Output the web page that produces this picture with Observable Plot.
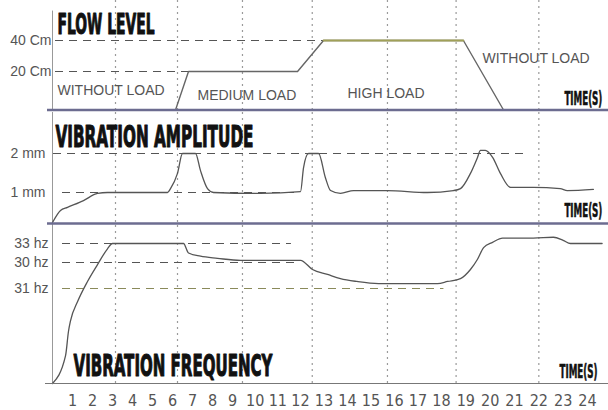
<!DOCTYPE html>
<html><head><meta charset="utf-8">
<script src="https://cdn.jsdelivr.net/npm/d3@7"></script>
<script src="https://cdn.jsdelivr.net/npm/@observablehq/plot@0.6"></script>
<style>
html,body{margin:0;padding:0;background:#fff;overflow:hidden;width:608px;height:410px}
#chart svg{display:block}
</style></head><body><div id="chart"></div>
<script>
// ---- data ----
const timeTicks = [1,2,3,4,5,6,7,8,9,10,11,12,13,14,15,16,17,18,19,20,21,22,23,24];
const gridT = [3.15, 6.25, 9.44, 12.5, 15.7, 18.6, 22.0];

const flowT  = [0, 6.15, 6.8, 11.87, 12.98, 18.9, 20.55, 24.9];
const flowCm = [0, 0, 20, 20, 40, 40, 0, 0];
const flowTicks = [20, 40];
const flowTickLabels = ["20 Cm", "40 Cm"];
const flowGuideCm = [40, 20];
const flowGuideStart = [0.15, 0.15];
const flowGuideEnd = [12.98, 6.8];
const loadLabels = ["WITHOUT LOAD", "MEDIUM LOAD", "HIGH LOAD", "WITHOUT LOAD"];
const loadT = [0.25, 7.25, 14.0, 19.69];
const loadCm = [10.1, 7.5, 8.6, 28.4];

const ampT  = [0, 0.4, 0.75, 1.55, 2.25, 2.75, 4.4, 5.75, 5.9, 6.25, 6.5, 7.15, 7.4, 7.75, 8.05, 10.24, 12, 12.13, 12.34, 12.77, 13.06, 13.28, 13.7, 14.26, 15.7, 17.4, 18.49, 18.78, 19.19, 19.48, 19.6, 19.8, 20.1, 20.42, 20.84, 21.77, 22.88, 23.17, 24.24];
const ampMm = [0.03, 0.42, 0.52, 0.74, 0.97, 1.0, 1.0, 1.0, 1.1, 1.49, 2.0, 2.0, 1.56, 1.1, 1.0, 0.97, 1.02, 1.64, 2.0, 2.0, 1.38, 1.05, 0.97, 1.05, 1.05, 1.0, 1.05, 1.1, 1.49, 1.9, 2.08, 2.08, 1.9, 1.49, 1.13, 1.13, 1.1, 1.05, 1.08];
const ampTicks = [1, 2];
const ampTickLabels = ["1 mm", "2 mm"];
const ampGuideMm = [2, 1];
const ampGuideStart = [0.05, 0.5];
const ampGuideEnd = [21.4, 12];

const freqT = [0, 0.65, 0.8, 0.9, 1.25, 1.75, 2.25, 2.75, 3.0, 6.55, 6.8, 7.4, 8.25, 9.35, 12, 12.51, 13.15, 13.7, 14.4, 15.32, 16.72, 17.83, 18.25, 18.78, 19.19, 19.48, 19.73, 20.1, 20.51, 21.77, 22.6, 23.0, 23.3, 24.6];
const freqLevel = [0, 0.29, 0.55, 0.66, 0.86, 1.27, 1.92, 2.72, 3.0, 3.0, 2.5, 2.33, 2.22, 2.11, 2.11, 1.73, 1.54, 1.38, 1.27, 1.19, 1.19, 1.19, 1.27, 1.38, 1.73, 2.17, 2.78, 3.06, 3.28, 3.28, 3.33, 3.17, 3.0, 3.0];
const freqTicks = [1, 2, 3];
const freqTickLabels = ["31 hz", "30 hz", "33 hz"];
const freqGuideLevel = [3, 2, 1];
const freqGuideStart = [0.5, 0.5, 0.5];
const freqGuideEnd = [11.6, 12, 18.1];

const titles = ["FLOW LEVEL", "VIBRATION AMPLITUDE", "VIBRATION FREQUENCY"];
const timeLabel = "TIME(S)";

// ---- helpers ----
const zip = (a, b) => a.map((v, i) => [v, b[i]]);
const guides = (vals, s, e) => vals.map((v, i) => ({v, x1: s[i], x2: e[i]}));
const titleFont = "'DejaVu Sans Condensed', 'DejaVu Sans', sans-serif";
const fitWidths = {"FLOW LEVEL": 97, "VIBRATION AMPLITUDE": 198, "VIBRATION FREQUENCY": 199};

function panel({height, marginBottom = 0, yDomain, yRange, yTicks, yLabels, tickPadding, xAxis = false, marks}) {
  return Plot.plot({
    width: 608, height, marginLeft: 52, marginRight: 0, marginTop: 0, marginBottom,
    style: {fontFamily: "'Liberation Sans', Arial, sans-serif", fontSize: "14px", color: "#555", background: "transparent", overflow: "hidden"},
    x: {type: "linear", domain: [0, 9, 12, 18, 24], range: [52, 232, 300, 441, 587], axis: xAxis ? "bottom" : null,
        ticks: timeTicks, tickSize: 0, tickPadding: 11, label: null},
    y: {type: "linear", domain: yDomain, range: yRange, ticks: yTicks, tickFormat: d => yLabels[yTicks.indexOf(d)],
        tickSize: 0, tickPadding, label: null},
    marks
  });
}

const gridMark = () => Plot.ruleX(gridT, {x: d => d, stroke: "#9a9a9a", strokeWidth: 1.2, strokeDasharray: "2,4"});
const titleMark = (txt, t, y, size) => Plot.text([txt], {x: () => t, y: () => y, text: d => d, textAnchor: "start",
  fontFamily: titleFont, fontWeight: "bold", fontSize: size, fill: "#111", stroke: "#111", strokeWidth: 1.1});
const timeMark = (t, y) => Plot.text([timeLabel], {x: () => t, y: () => y, text: d => d, textAnchor: "start",
  fontFamily: titleFont, fontWeight: "bold", fontSize: 19, fill: "#111", stroke: "#111", strokeWidth: 0.6});

// ---- panel 1: flow level ----
const flow = zip(flowT, flowCm);
const p1 = panel({
  height: 112, yDomain: [0, 20, 40], yRange: [109.5, 71, 40], yTicks: flowTicks, yLabels: flowTickLabels, tickPadding: 1,
  marks: [
    gridMark(),
    Plot.ruleX([0], {y1: 0, y2: 59, stroke: "#999"}),
    Plot.ruleY(guides(flowGuideCm, flowGuideStart, flowGuideEnd), {y: "v", x1: "x1", x2: "x2", stroke: "#555", strokeDasharray: "8,6"}),
    Plot.line(flow, {x: d => d[0], y: d => d[1], stroke: "#666", strokeWidth: 1.4}),
    Plot.line(flow.filter(d => d[1] === 40), {x: d => d[0], y: d => d[1], stroke: "#a0a058", strokeWidth: 1.8}),
    Plot.ruleY([0], {x1: -0.25, x2: 25, stroke: "#6c6c90", strokeWidth: 2.5}),
    Plot.text(loadLabels, {x: (d, i) => loadT[i], y: (d, i) => loadCm[i], text: d => d, textAnchor: "start", fill: "#555", fontSize: 14}),
    titleMark(titles[0], 0.25, 50.5, 29),
    timeMark(23.05, 5.5)
  ]
});

// ---- panel 2: vibration amplitude ----
const p2 = panel({
  height: 113, yDomain: [0, 1, 2], yRange: [111, 80, 41], yTicks: ampTicks, yLabels: ampTickLabels, tickPadding: 7,
  marks: [
    gridMark(),
    Plot.ruleX([0], {stroke: "#999"}),
    Plot.ruleY(guides(ampGuideMm, ampGuideStart, ampGuideEnd), {y: "v", x1: "x1", x2: "x2", stroke: "#555", strokeDasharray: "8,6"}),
    Plot.line(zip(ampT, ampMm), {x: d => d[0], y: d => d[1], stroke: "#555", strokeWidth: 1.3, curve: "monotone-x"}),
    Plot.ruleY([0], {x1: -0.25, x2: 25, stroke: "#6c6c90", strokeWidth: 2.5}),
    titleMark(titles[1], 0.15, 2.43, 31),
    timeMark(23.05, 0.39)
  ]
});

// ---- panel 3: vibration frequency ----
const p3 = panel({
  height: 185, marginBottom: 27, yDomain: [0, 1, 2, 3], yRange: [158, 63, 37, 18], yTicks: freqTicks, yLabels: freqTickLabels, tickPadding: 4, xAxis: true,
  marks: [
    gridMark(),
    Plot.ruleX([0], {stroke: "#999"}),
    Plot.ruleY(guides(freqGuideLevel, freqGuideStart, freqGuideEnd), {y: "v", x1: "x1", x2: "x2",
      stroke: (d, i) => i === 2 ? "#8a8a5a" : "#555", strokeDasharray: "8,6"}),
    Plot.line(zip(freqT, freqLevel), {x: d => d[0], y: d => d[1], stroke: "#555", strokeWidth: 1.3, curve: "monotone-x"}),
    Plot.ruleY([0], {x1: -0.35, x2: 25, stroke: "#777", strokeWidth: 1.2}),
    titleMark(titles[2], 1.05, 0.18, 31),
    timeMark(22.85, 0.126)
  ]
});

const root = document.getElementById("chart");
[p1, p2, p3].forEach(p => root.appendChild(p));

// condensed headline text
d3.selectAll("#chart text").each(function() {
  const w = fitWidths[this.textContent];
  if (w) { this.setAttribute("textLength", w); this.setAttribute("lengthAdjust", "spacingAndGlyphs"); }
  if (this.textContent === timeLabel) {
    const s = 38 / this.getComputedTextLength();
    const tr = this.getAttribute("transform") || "";
    this.setAttribute("transform", tr + ` scale(${s},1)`);
  }
});
// x tick labels in narrow face
d3.select(p3).selectAll('g[aria-label^="x-axis"] text')
  .attr("font-family", "'Liberation Sans Narrow', 'DejaVu Sans Condensed', 'Liberation Sans', sans-serif")
  .attr("font-size", 16).attr("fill", "#555");
</script></body></html>
